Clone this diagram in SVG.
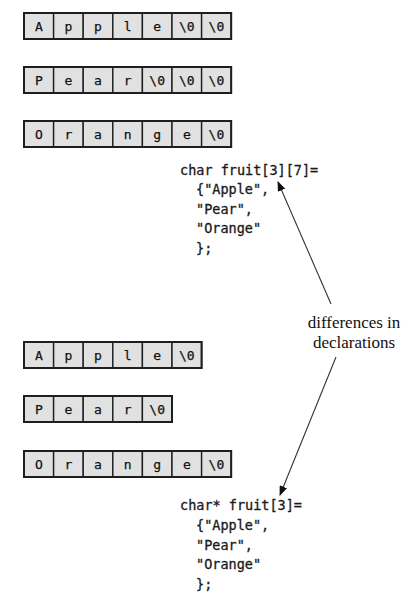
<svg xmlns="http://www.w3.org/2000/svg" width="416" height="608" viewBox="0 0 416 608">
<defs>
<style>
.cell{fill:#e1e1e1;stroke:#1e1e1e;stroke-width:1.4}
.outer{fill:none;stroke:#1e1e1e;stroke-width:2}
.ct{font-family:"DejaVu Sans Mono","Liberation Mono",monospace;font-size:13px;fill:#111;stroke:#111;stroke-width:0.25;text-anchor:middle}
.code{font-family:"DejaVu Sans Mono","Liberation Mono",monospace;font-size:13.5px;fill:#1a1a1a;stroke:#1a1a1a;stroke-width:0.3}
.lbl{font-family:"Liberation Serif","Times New Roman",serif;font-size:17px;fill:#111;text-anchor:middle}
.conn{stroke:#333;stroke-width:1.1;fill:none;marker-end:url(#ah)}
</style>
<marker id="ah" viewBox="0 0 10 8" refX="9" refY="4" markerWidth="10" markerHeight="8" markerUnits="userSpaceOnUse" orient="auto">
<path d="M0,0 L10,4 L0,8 Z" fill="#111"/>
</marker>
</defs>
<rect width="416" height="608" fill="#fff"/>

<g id="row-apple-7">
<rect class="cell" x="24" y="13" width="29.6" height="26"/><rect class="cell" x="53.6" y="13" width="29.6" height="26"/><rect class="cell" x="83.2" y="13" width="29.6" height="26"/><rect class="cell" x="112.8" y="13" width="29.6" height="26"/><rect class="cell" x="142.4" y="13" width="29.6" height="26"/><rect class="cell" x="172" y="13" width="29.6" height="26"/><rect class="cell" x="201.6" y="13" width="29.6" height="26"/>
<rect class="outer" x="24" y="13" width="207.2" height="26"/>
<text class="ct" x="38.8" y="30.5">A</text><text class="ct" x="68.4" y="30.5">p</text><text class="ct" x="98" y="30.5">p</text><text class="ct" x="127.6" y="30.5">l</text><text class="ct" x="157.2" y="30.5">e</text><text class="ct" x="186.8" y="30.5">\0</text><text class="ct" x="216.4" y="30.5">\0</text>
</g>

<g id="row-pear-7">
<rect class="cell" x="24" y="67" width="29.6" height="26"/><rect class="cell" x="53.6" y="67" width="29.6" height="26"/><rect class="cell" x="83.2" y="67" width="29.6" height="26"/><rect class="cell" x="112.8" y="67" width="29.6" height="26"/><rect class="cell" x="142.4" y="67" width="29.6" height="26"/><rect class="cell" x="172" y="67" width="29.6" height="26"/><rect class="cell" x="201.6" y="67" width="29.6" height="26"/>
<rect class="outer" x="24" y="67" width="207.2" height="26"/>
<text class="ct" x="38.8" y="84.5">P</text><text class="ct" x="68.4" y="84.5">e</text><text class="ct" x="98" y="84.5">a</text><text class="ct" x="127.6" y="84.5">r</text><text class="ct" x="157.2" y="84.5">\0</text><text class="ct" x="186.8" y="84.5">\0</text><text class="ct" x="216.4" y="84.5">\0</text>
</g>

<g id="row-orange-7">
<rect class="cell" x="24" y="121" width="29.6" height="26"/><rect class="cell" x="53.6" y="121" width="29.6" height="26"/><rect class="cell" x="83.2" y="121" width="29.6" height="26"/><rect class="cell" x="112.8" y="121" width="29.6" height="26"/><rect class="cell" x="142.4" y="121" width="29.6" height="26"/><rect class="cell" x="172" y="121" width="29.6" height="26"/><rect class="cell" x="201.6" y="121" width="29.6" height="26"/>
<rect class="outer" x="24" y="121" width="207.2" height="26"/>
<text class="ct" x="38.8" y="138.5">O</text><text class="ct" x="68.4" y="138.5">r</text><text class="ct" x="98" y="138.5">a</text><text class="ct" x="127.6" y="138.5">n</text><text class="ct" x="157.2" y="138.5">g</text><text class="ct" x="186.8" y="138.5">e</text><text class="ct" x="216.4" y="138.5">\0</text>
</g>

<g id="code-array">
<text class="code" x="180" y="174.5">char fruit[3][7]=</text>
<text class="code" x="196" y="194">{"Apple",</text>
<text class="code" x="196" y="213.5">"Pear",</text>
<text class="code" x="196" y="233">"Orange"</text>
<text class="code" x="196" y="252.5">};</text>
</g>

<g id="label">
<text class="lbl" x="354" y="328">differences in</text>
<text class="lbl" x="354" y="348">declarations</text>
</g>

<g id="row-apple-ptr">
<rect class="cell" x="24" y="342" width="29.6" height="26"/><rect class="cell" x="53.6" y="342" width="29.6" height="26"/><rect class="cell" x="83.2" y="342" width="29.6" height="26"/><rect class="cell" x="112.8" y="342" width="29.6" height="26"/><rect class="cell" x="142.4" y="342" width="29.6" height="26"/><rect class="cell" x="172" y="342" width="29.6" height="26"/>
<rect class="outer" x="24" y="342" width="177.6" height="26"/>
<text class="ct" x="38.8" y="359.5">A</text><text class="ct" x="68.4" y="359.5">p</text><text class="ct" x="98" y="359.5">p</text><text class="ct" x="127.6" y="359.5">l</text><text class="ct" x="157.2" y="359.5">e</text><text class="ct" x="186.8" y="359.5">\0</text>
</g>

<g id="row-pear-ptr">
<rect class="cell" x="24" y="396" width="29.6" height="26"/><rect class="cell" x="53.6" y="396" width="29.6" height="26"/><rect class="cell" x="83.2" y="396" width="29.6" height="26"/><rect class="cell" x="112.8" y="396" width="29.6" height="26"/><rect class="cell" x="142.4" y="396" width="29.6" height="26"/>
<rect class="outer" x="24" y="396" width="148" height="26"/>
<text class="ct" x="38.8" y="413.5">P</text><text class="ct" x="68.4" y="413.5">e</text><text class="ct" x="98" y="413.5">a</text><text class="ct" x="127.6" y="413.5">r</text><text class="ct" x="157.2" y="413.5">\0</text>
</g>

<g id="row-orange-ptr">
<rect class="cell" x="24" y="451" width="29.6" height="26"/><rect class="cell" x="53.6" y="451" width="29.6" height="26"/><rect class="cell" x="83.2" y="451" width="29.6" height="26"/><rect class="cell" x="112.8" y="451" width="29.6" height="26"/><rect class="cell" x="142.4" y="451" width="29.6" height="26"/><rect class="cell" x="172" y="451" width="29.6" height="26"/><rect class="cell" x="201.6" y="451" width="29.6" height="26"/>
<rect class="outer" x="24" y="451" width="207.2" height="26"/>
<text class="ct" x="38.8" y="468.5">O</text><text class="ct" x="68.4" y="468.5">r</text><text class="ct" x="98" y="468.5">a</text><text class="ct" x="127.6" y="468.5">n</text><text class="ct" x="157.2" y="468.5">g</text><text class="ct" x="186.8" y="468.5">e</text><text class="ct" x="216.4" y="468.5">\0</text>
</g>

<g id="code-pointer">
<text class="code" x="180" y="510">char* fruit[3]=</text>
<text class="code" x="196" y="530">{"Apple",</text>
<text class="code" x="196" y="549.5">"Pear",</text>
<text class="code" x="196" y="569">"Orange"</text>
<text class="code" x="196" y="589">};</text>
</g>

<g id="connectors">
<line class="conn" x1="331" y1="304" x2="278" y2="182"/>
<line class="conn" x1="336" y1="357" x2="280" y2="495"/>
</g>
</svg>
